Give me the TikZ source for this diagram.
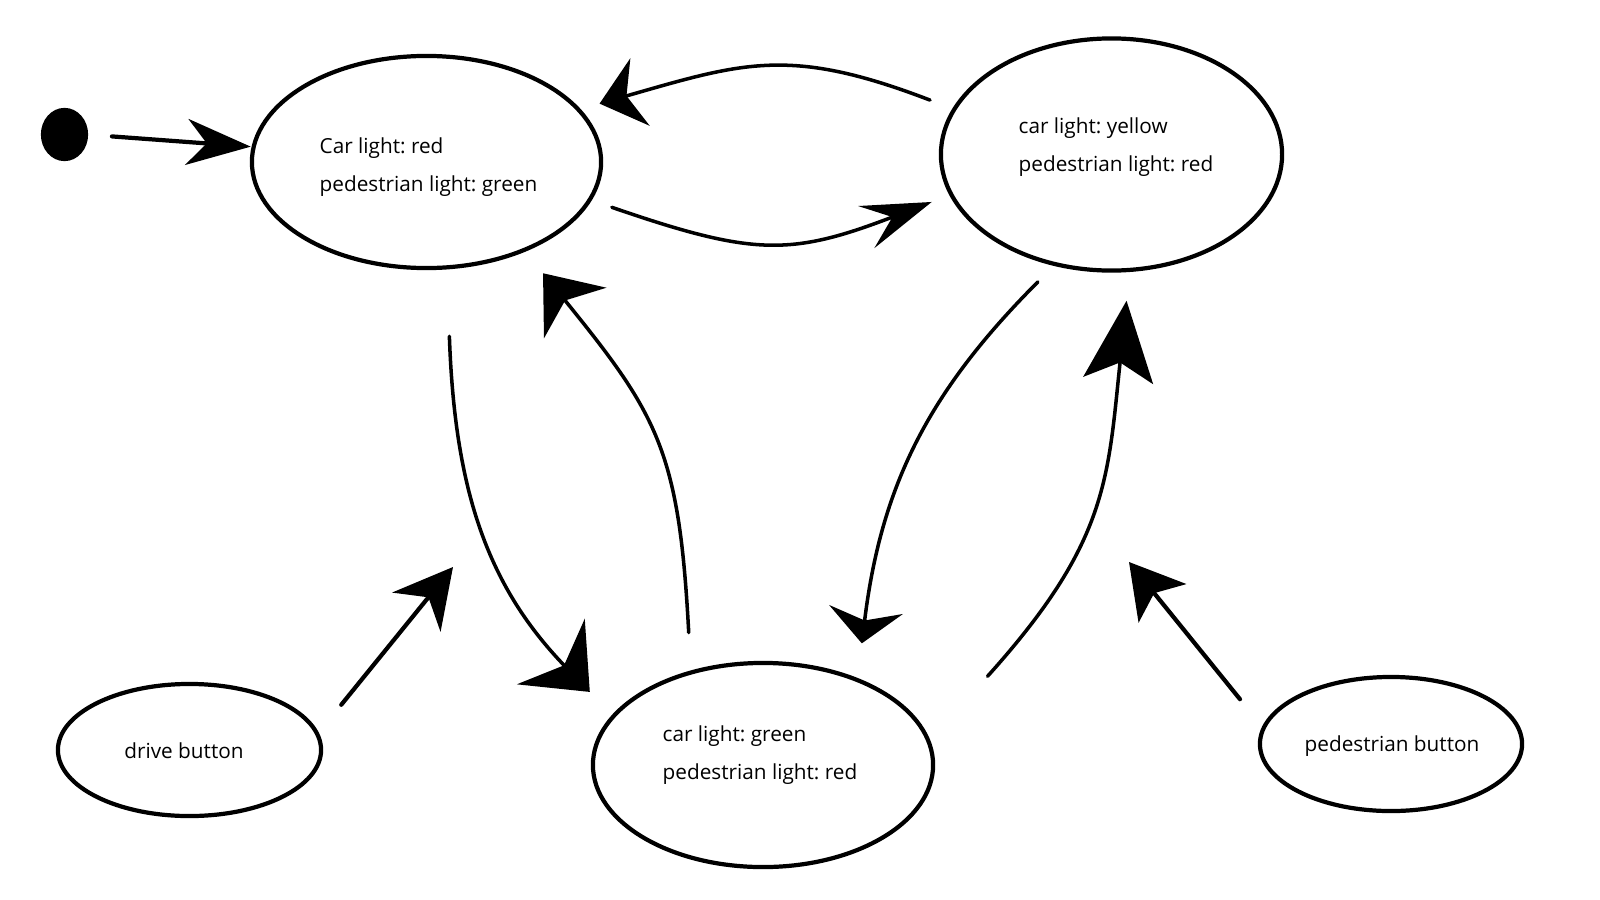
\documentclass[tikz,border=0pt]{standalone}
\usepackage{fontspec}
\setmainfont{Open Sans}
\usetikzlibrary{arrows.meta,shapes.geometric}
\frenchspacing

\begin{document}
\begin{tikzpicture}[x=0.01cm,y=-0.01cm,
  state/.style={draw, ellipse, line width=1.2pt, inner sep=0pt, outer sep=0pt},
  txt/.style={font=\fontsize{5.9}{10.9}\selectfont, align=left, inner sep=0pt},
  flow/.style={line width=1pt, line cap=round},
  push/.style={line width=1.2pt, line cap=round},
  ahead/.style n args={3}{arrows={-Stealth[length=#1,width=#2,inset=#3]}}
]
% canvas
\fill[white] (0,0) rectangle (1600,900);
\useasboundingbox (0,0) rectangle (1600,900);

% initial pseudo-state
\node[state, fill=black, minimum width=0.43cm, minimum height=0.49cm] (init) at (64.5,134.5) {};

% states
\node[state, minimum width=3.49cm, minimum height=2.12cm] (sA) at (426.5,162) {};
\node[state, minimum width=3.41cm, minimum height=2.32cm] (sB) at (1111.5,154.5) {};
\node[state, minimum width=3.40cm, minimum height=2.04cm] (sC) at (763,765) {};

\node[txt, anchor=west] (tA) at (319,167) {Car light: red\\pedestrian light: green};
\node[txt, anchor=west] (tB) at (1018,147) {car light: yellow\\pedestrian light: red};
\node[txt, anchor=west] (tC) at (662,755) {car light: green\\pedestrian light: red};

% buttons
\node[state, minimum width=2.63cm, minimum height=1.32cm] (drive) at (189.5,750) {};
\node[txt] (tD) at (184,751) {drive button};
\node[state, minimum width=2.62cm, minimum height=1.34cm] (ped) at (1391,744) {};
\node[txt] (tP) at (1392,746) {pedestrian button};

% where the button arrows point
\coordinate (dtip) at (453,567);
\coordinate (ptip) at (1129,562);

% initial transition
\draw[push, ahead={0.64cm}{0.46cm}{0.20cm}, shorten <=0.26cm, shorten >=0.03cm]
  (init.east) -- (sA.175);

% red/green <-> yellow/red
\draw[flow, ahead={0.70cm}{0.45cm}{0.28cm}, shorten <=0.234cm, shorten >=0.21cm]
  (sA.-13) to[out=-19, in=201, out distance=1.74cm, in distance=1.72cm] (sB.194);
\draw[flow, ahead={0.42cm}{0.70cm}{0.14cm}, shorten <=0.26cm, shorten >=0.22cm]
  (sB.164) to[out=159, in=16, out distance=1.76cm, in distance=1.72cm] (sA.19);

% red/green <-> green/red
\draw[flow, ahead={0.56cm}{0.94cm}{0.19cm}, shorten <=0.69cm, shorten >=0.34cm]
  (sA.-79) to[out=-88, in=134, out distance=2.19cm, in distance=1.84cm] (sC.162);
\draw[flow, ahead={0.51cm}{0.80cm}{0.16cm}, shorten <=0.40cm, shorten >=0.30cm]
  (sC.128) to[out=93, in=-51, out distance=2.22cm, in distance=2.12cm] (sA.-42);

% yellow/red <-> green/red
\draw[flow, ahead={0.34cm}{0.74cm}{0.11cm}, shorten <=0.25cm, shorten >=0.37cm]
  (sB.243) to[out=225, in=83, out distance=1.82cm, in distance=1.94cm] (sC.42);
\draw[flow, ahead={0.80cm}{0.70cm}{0.18cm}, shorten <=0.88cm, shorten >=0.31cm]
  (sC.8) to[out=48, in=264, out distance=2.68cm, in distance=2.11cm] (sB.-81);

% button events
\draw[push, ahead={0.58cm}{0.62cm}{0.19cm}, shorten <=0.38cm] (drive.7) -- (dtip);
\draw[push, ahead={0.53cm}{0.61cm}{0.13cm}, shorten <=0.375cm] (ped.173) -- (ptip);
\end{tikzpicture}
\end{document}
